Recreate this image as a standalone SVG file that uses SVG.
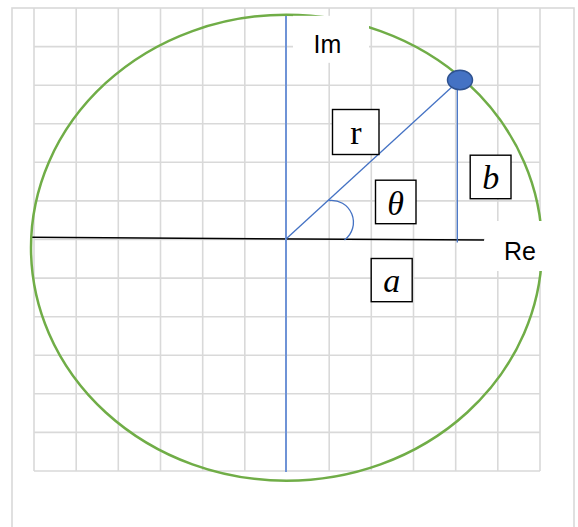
<svg xmlns="http://www.w3.org/2000/svg" width="578" height="527" viewBox="0 0 578 527">
<style>
.grid line{stroke:#d9d9d9;stroke-width:1.6}
.frame{fill:none;stroke:#d9d9d9;stroke-width:1.6}
.lbl{fill:#ffffff;stroke:#000000;stroke-width:1.4}
.mask{fill:#ffffff;stroke:none}
.axtext{font-family:"Liberation Sans",Arial,sans-serif;font-size:25px;fill:#000000}
.math{font-family:"Liberation Serif","Times New Roman",serif;font-size:34px;fill:#000000;text-anchor:middle}
.thin{stroke:#4472c4;stroke-width:1.3;fill:none}
</style>
<rect width="578" height="527" fill="#ffffff"/>
<g id="grid" class="grid">
<line x1="34" y1="8" x2="34" y2="471"/>
<line x1="76.2" y1="8" x2="76.2" y2="471"/>
<line x1="118.3" y1="8" x2="118.3" y2="471"/>
<line x1="160.5" y1="8" x2="160.5" y2="471"/>
<line x1="202.7" y1="8" x2="202.7" y2="471"/>
<line x1="244.8" y1="8" x2="244.8" y2="471"/>
<line x1="329.2" y1="8" x2="329.2" y2="471"/>
<line x1="371.3" y1="8" x2="371.3" y2="471"/>
<line x1="413.5" y1="8" x2="413.5" y2="471"/>
<line x1="455.7" y1="8" x2="455.7" y2="471"/>
<line x1="497.8" y1="8" x2="497.8" y2="471"/>
<line x1="540" y1="8" x2="540" y2="471"/>
<line x1="34" y1="46.6" x2="540" y2="46.6"/>
<line x1="34" y1="85.2" x2="540" y2="85.2"/>
<line x1="34" y1="123.7" x2="540" y2="123.7"/>
<line x1="34" y1="162.3" x2="540" y2="162.3"/>
<line x1="34" y1="200.9" x2="540" y2="200.9"/>
<line x1="34" y1="239.5" x2="540" y2="239.5"/>
<line x1="34" y1="278.1" x2="540" y2="278.1"/>
<line x1="34" y1="316.7" x2="540" y2="316.7"/>
<line x1="34" y1="355.2" x2="540" y2="355.2"/>
<line x1="34" y1="393.8" x2="540" y2="393.8"/>
<line x1="34" y1="432.4" x2="540" y2="432.4"/>
<line x1="34" y1="471" x2="540" y2="471"/>
</g>
<rect id="frame" class="frame" x="12" y="8" width="562" height="530"/>
<g id="axes">
<line x1="31" y1="237.3" x2="484" y2="240" stroke="#000000" stroke-width="1.5"/>
<line x1="286" y1="14" x2="286" y2="472" stroke="#6f93d6" stroke-width="2"/>
</g>
<ellipse id="circle" cx="286.5" cy="247.7" rx="255.5" ry="233" fill="none" stroke="#70ad47" stroke-width="2.5"/>
<g id="label-im">
<rect class="mask" x="293" y="15.8" width="76" height="47"/>
<text class="axtext" x="313.5" y="53.3">Im</text>
</g>
<g id="label-re">
<rect class="mask" x="485" y="221" width="80" height="50"/>
<text class="axtext" x="520" y="260" text-anchor="middle">Re</text>
</g>
<g id="connectors">
<line id="radius" class="thin" x1="286" y1="239" x2="453" y2="86"/>
<line id="b-line" class="thin" x1="457.3" y1="89" x2="457.3" y2="242.5"/>
<path id="angle-arc" class="thin" stroke-width="1.5" d="M328.5,200.5 A22,22 0 0 1 344.5,240"/>
</g>
<g id="point">
<ellipse cx="460" cy="80" rx="12.5" ry="9.8" fill="#4472c4" stroke="#2f528f" stroke-width="1.5"/>
</g>
<g id="label-r">
<rect class="lbl" x="332.5" y="109.5" width="46.5" height="45"/>
<text class="math" x="355.8" y="144">r</text>
</g>
<g id="label-theta">
<rect class="lbl" x="375.5" y="180.2" width="40.5" height="43.5"/>
<text class="math" x="395.5" y="215" font-style="italic">θ</text>
</g>
<g id="label-b">
<rect class="lbl" x="470.2" y="155.2" width="40.8" height="43.5"/>
<text class="math" x="490.8" y="189.3" font-style="italic">b</text>
</g>
<g id="label-a">
<rect class="lbl" x="371.2" y="258.5" width="41" height="43.2"/>
<text class="math" x="391.7" y="292.3" font-style="italic">a</text>
</g>
</svg>
